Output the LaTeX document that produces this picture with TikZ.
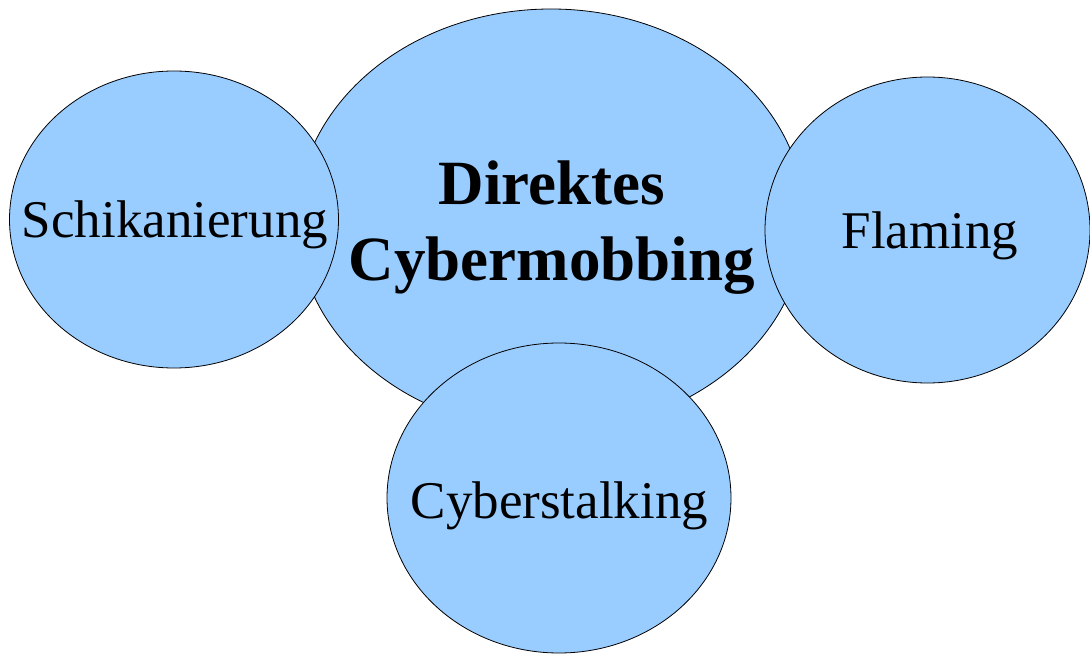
\documentclass[tikz,border=0pt]{standalone}
\usepackage{fontspec}
\setmainfont{Liberation Serif}
\usetikzlibrary{shapes.geometric}
\definecolor{bubble}{HTML}{99CCFF}
\tikzset{
  bubble/.style={ellipse, draw=black, line width=0.8pt, fill=bubble, inner sep=0pt},
  smalltxt/.style={anchor=base, inner sep=0pt, font=\fontsize{53}{60}\selectfont},
  bigtxt/.style={anchor=base, inner sep=0pt, font=\fontsize{63}{75}\selectfont\bfseries}
}
\begin{document}
\begin{tikzpicture}[x=1pt,y=-1pt]
\useasboundingbox (0,0) rectangle (1090,655);
\node[bubble, minimum width=508pt, minimum height=422pt] (main) at (551,220) {};
\node[bubble, minimum width=329pt, minimum height=297pt] (left) at (174,219.5) {};
\node[bubble, minimum width=325pt, minimum height=306pt] (right) at (927.5,230) {};
\node[bubble, minimum width=344pt, minimum height=310pt] (bottom) at (559,498) {};
\node[bigtxt] (t1) at (552,205) {Direktes};
\node[bigtxt] (t2) at (552,280) {Cybermobbing};
\node[smalltxt] (tl) at (175,238) {Schikanierung};
\node[smalltxt] (tr) at (930,249) {Flaming};
\node[smalltxt] (tb) at (559.5,518) {Cyberstalking};
\end{tikzpicture}
\end{document}
